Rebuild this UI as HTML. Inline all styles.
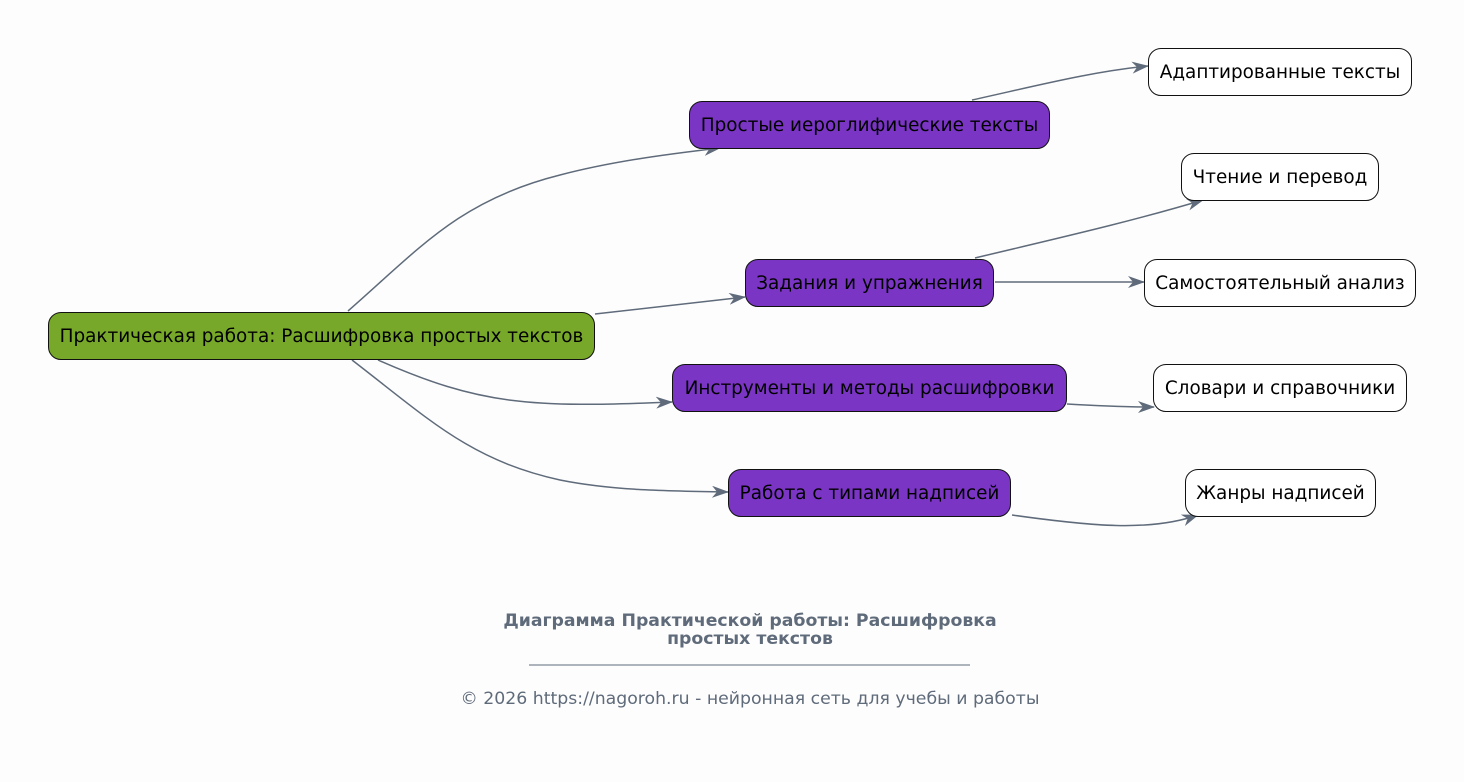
<!DOCTYPE html>
<html><head><meta charset="utf-8">
<style>
html,body{margin:0;padding:0;background:#fdfdfd;}
body{width:1464px;height:782px;position:relative;overflow:hidden;font-family:"DejaVu Sans","Liberation Sans",sans-serif;}
.n{position:absolute;box-sizing:border-box;border:1px solid #111;border-radius:13px;display:flex;align-items:center;justify-content:center;font-size:18.4px;color:#000;white-space:nowrap;}
.g{background:#77a82a;}
.p{background:#7a35c4;}
.w{background:#fff;}
.t{position:absolute;left:0;width:1500px;text-align:center;color:#5f6b7a;}
</style></head><body>
<svg width="1464" height="782" style="position:absolute;left:0;top:0">
<defs><marker id="a" markerWidth="18" markerHeight="12" refX="16" refY="6" orient="auto" markerUnits="userSpaceOnUse">
<path d="M0,0 L17,6 L0,12 L5,6 z" fill="#5f6b7a"/></marker></defs>
<g fill="none" stroke="#5f6b7a" stroke-width="1.5" marker-end="url(#a)">
<path d="M348,311 C420,248 460,200 560,175 C610,162 660,155 720,148"/>
<path d="M595,314 L745,297"/>
<path d="M378,360 C480,405 530,408 672,402"/>
<path d="M352,360 C430,420 470,460 560,480 C610,490 660,491 728,492"/>
<path d="M972,100 C1040,85 1090,72 1148,66"/>
<path d="M975,258 C1050,240 1130,222 1203,200"/>
<path d="M995,282 L1144,282"/>
<path d="M1067,404 C1100,406 1125,407 1154,407"/>
<path d="M1012,515 C1090,526 1150,532 1198,515"/>
</g>
<line x1="529" y1="665" x2="970" y2="665" stroke="#5f6b7a" stroke-width="1"/>
</svg>
<div class="n g" style="left:48px;top:312px;width:547px;height:48px">Практическая работа: Расшифровка простых текстов</div>
<div class="n p" style="left:689px;top:101px;width:361px;height:48px">Простые иероглифические тексты</div>
<div class="n p" style="left:745px;top:259px;width:249px;height:48px">Задания и упражнения</div>
<div class="n p" style="left:672px;top:364px;width:395px;height:48px">Инструменты и методы расшифровки</div>
<div class="n p" style="left:728px;top:469px;width:283px;height:48px">Работа с типами надписей</div>
<div class="n w" style="left:1148px;top:48px;width:264px;height:48px">Адаптированные тексты</div>
<div class="n w" style="left:1181px;top:153px;width:198px;height:48px">Чтение и перевод</div>
<div class="n w" style="left:1144px;top:259px;width:272px;height:48px">Самостоятельный анализ</div>
<div class="n w" style="left:1153px;top:364px;width:254px;height:48px">Словари и справочники</div>
<div class="n w" style="left:1185px;top:469px;width:191px;height:48px">Жанры надписей</div>
<div class="t" style="top:612px;left:0;width:1500px;font-weight:bold;font-size:17.3px;line-height:18px">Диаграмма Практической работы: Расшифровка<br>простых текстов</div>
<div class="t" style="top:689px;left:0;width:1500px;font-size:17.3px">© 2026 https://nagoroh.ru - нейронная сеть для учебы и работы</div>
</body></html>
